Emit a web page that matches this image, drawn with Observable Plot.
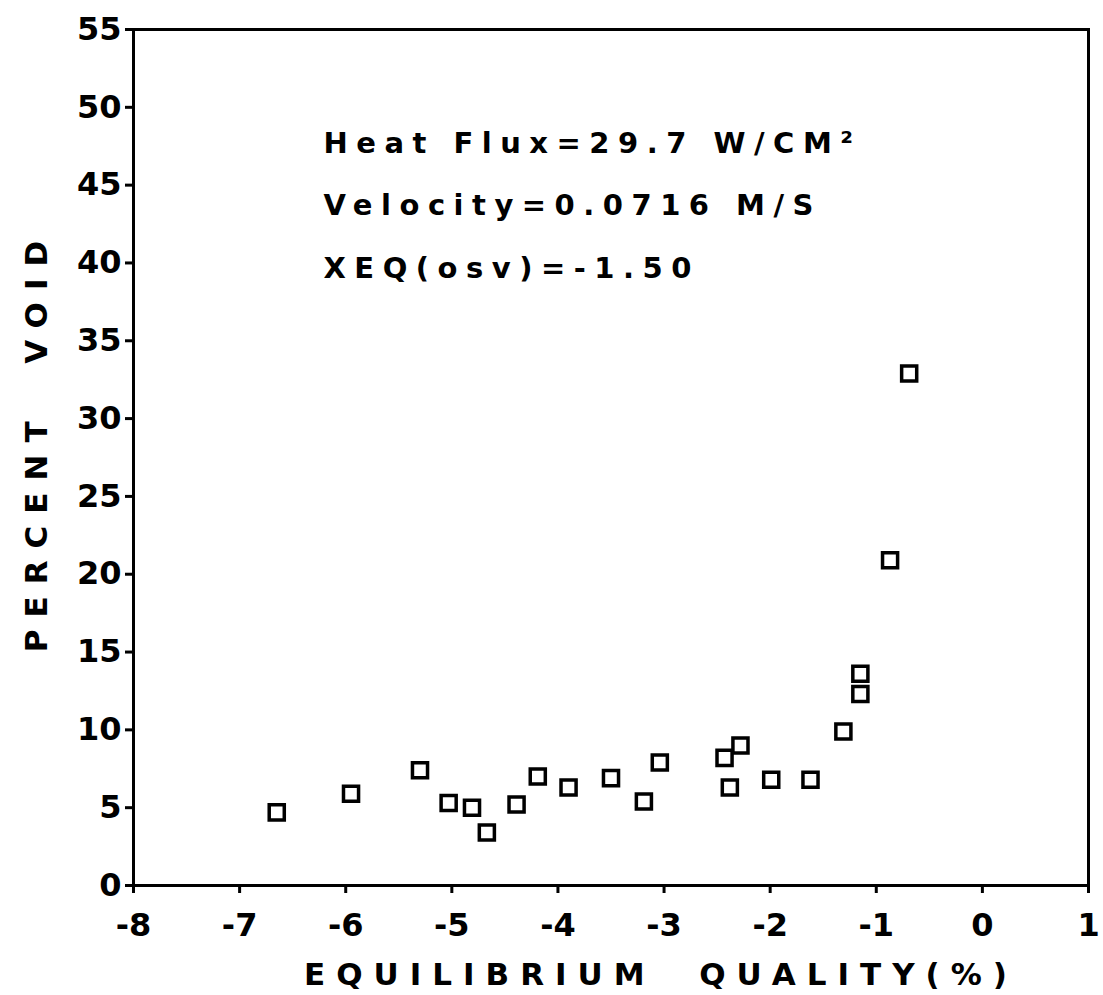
<!DOCTYPE html>
<html><head><meta charset="utf-8">
<script src="https://cdn.jsdelivr.net/npm/d3@7"></script>
<script src="https://cdn.jsdelivr.net/npm/@observablehq/plot@0.6"></script>
<style>body{margin:0;background:#fff}</style>
</head><body><div id="chart"></div>
<script>
const quality = [-6.65, -5.95, -5.30, -5.03, -4.81, -4.67, -4.39, -4.19, -3.90, -3.50, -3.19, -3.04, -2.43, -2.28, -2.38, -1.99, -1.62, -1.31, -1.15, -1.15, -0.87, -0.69];
const voidPct = [4.7, 5.9, 7.4, 5.3, 5.0, 3.4, 5.2, 7.0, 6.3, 6.9, 5.4, 7.9, 8.2, 9.0, 6.3, 6.8, 6.8, 9.9, 13.6, 12.3, 20.9, 32.9];
const xTicks = [-8, -7, -6, -5, -4, -3, -2, -1, 0, 1];
const yTicks = [0, 5, 10, 15, 20, 25, 30, 35, 40, 45, 50, 55];
const annotations = ["Heat Flux=29.7 W/CM²", "Velocity=0.0716 M/S", "XEQ(osv)=-1.50"];
const xLabel = "EQUILIBRIUM  QUALITY(%)";
const yLabel = "PERCENT  VOID";

const points = quality.map((q, i) => ({q, v: voidPct[i]}));
const fmt = d => (d < 0 ? "-" + Math.abs(d) : String(d));

const chart = Plot.plot({
  width: 1103,
  height: 995,
  marginLeft: 133,
  marginRight: 15,
  marginTop: 29,
  marginBottom: 110,
  style: {fontFamily: "'DejaVu Sans', sans-serif", fontSize: "32px", fontWeight: "bold", background: "#fff", color: "#000"},
  x: {domain: [-8, 1]},
  y: {domain: [0, 55]},
  marks: [
    Plot.frame({stroke: "#000", strokeWidth: 3}),
    Plot.axisX(xTicks, {tickSize: 8, strokeWidth: 3, tickPadding: 20, tickFormat: fmt, label: null}),
    Plot.axisY(yTicks, {tickSize: 8, strokeWidth: 3, tickPadding: 4, tickFormat: fmt, label: null}),
    Plot.dot(points, {x: "q", y: "v", symbol: "square", r: 8.5, stroke: "#000", strokeWidth: 3.5, fill: "#fff"}),
    Plot.text([annotations[0]], {frameAnchor: "top-left", dx: 190, dy: 114, textAnchor: "start", lineAnchor: "middle", fontSize: 29, className: "annot"}),
    Plot.text([annotations[1]], {frameAnchor: "top-left", dx: 190, dy: 176, textAnchor: "start", lineAnchor: "middle", fontSize: 29, className: "annot"}),
    Plot.text([annotations[2]], {frameAnchor: "top-left", dx: 190, dy: 239, textAnchor: "start", lineAnchor: "middle", fontSize: 29, className: "annot"}),
    Plot.text([xLabel], {frameAnchor: "bottom", dx: 50, dy: 90, textAnchor: "middle", lineAnchor: "middle", fontSize: 31, className: "xlab"}),
    Plot.text([yLabel], {frameAnchor: "left", dx: -96, dy: -17, rotate: -90, textAnchor: "middle", lineAnchor: "middle", fontSize: 31, className: "ylab"})
  ]
});
document.getElementById("chart").appendChild(chart);
const svg = d3.select(chart);
svg.selectAll(".annot text").style("letter-spacing", "8.5px");
svg.selectAll(".xlab text").style("letter-spacing", "11px");
svg.selectAll(".ylab text").style("letter-spacing", "12px");
</script>
</body></html>
